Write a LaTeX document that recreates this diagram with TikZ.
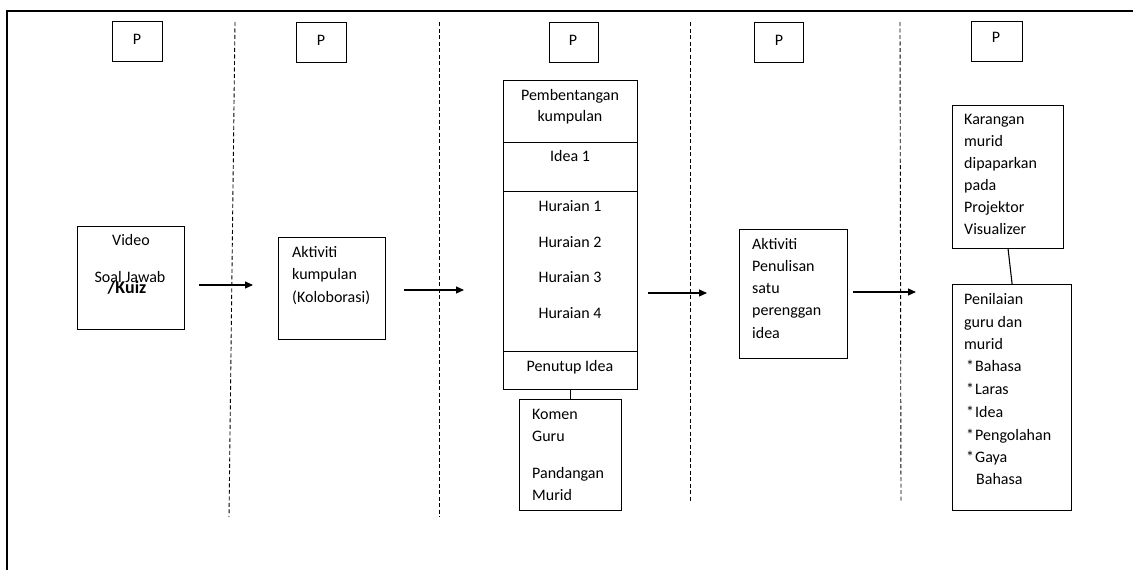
\documentclass[tikz,border=0pt]{standalone}
\usepackage{fontspec}
\setmainfont{Carlito}
\usetikzlibrary{arrows.meta}
\begin{document}
\begin{tikzpicture}[x=1pt,y=-1pt,
  box/.style={draw, line width=1.2pt, inner sep=0pt, anchor=north west},
  txt/.style={inner sep=0pt, font=\fontsize{16}{19}\selectfont},
  lt/.style={txt, anchor=mid west},
  ct/.style={txt, anchor=mid},
  sep/.style={line width=0.9pt, dash pattern=on 4pt off 2.5pt},
  flow/.style={line width=1.1pt, -{Triangle[length=8pt,width=7pt]}},
  link/.style={line width=1.1pt}]
\useasboundingbox (0,0) rectangle (1133,570);
% frame
\draw[line width=1.3pt] (7,570) -- (7,11) -- (1133,11);
% column separators
\coordinate (d1t) at (235,22); \coordinate (d1b) at (229,517);
\coordinate (d2t) at (439,22); \coordinate (d2b) at (439,517);
\coordinate (d3t) at (690,22); \coordinate (d3b) at (690,502);
\coordinate (d4t) at (900,22); \coordinate (d4b) at (901,502);
\draw[sep] (d1t) -- (d1b);
\draw[sep] (d2t) -- (d2b);
\draw[sep] (d3t) -- (d3b);
\draw[sep] (d4t) -- (d4b);
% P boxes
\node[box, minimum width=50pt, minimum height=40pt] (p1) at (112,21) {};
\node[box, minimum width=50pt, minimum height=40pt] (p2) at (296,22) {};
\node[box, minimum width=49pt, minimum height=40pt] (p3) at (549,22) {};
\node[box, minimum width=49pt, minimum height=40pt] (p4) at (754,22) {};
\node[box, minimum width=51pt, minimum height=40pt] (p5) at (971,21) {};
\node[txt] (p1t) at (137,39) {P};
\node[txt] (p2t) at (321,40) {P};
\node[txt] (p3t) at (573,40) {P};
\node[txt] (p4t) at (779,40) {P};
\node[txt] (p5t) at (996,37) {P};
% step boxes
\node[box, minimum width=107pt, minimum height=103pt] (video) at (77,226) {};
\node[box, minimum width=107pt, minimum height=102pt] (akt) at (278,237) {};
\node[box, minimum width=134pt, minimum height=62pt] (pemb) at (503,80) {};
\node[box, minimum width=134pt, minimum height=49pt] (idea) at (503,142) {};
\node[box, minimum width=134pt, minimum height=160pt] (hur) at (503,191) {};
\node[box, minimum width=134pt, minimum height=38pt] (penutup) at (503,351) {};
\node[box, minimum width=102pt, minimum height=111pt] (komen) at (519,399) {};
\node[box, minimum width=108pt, minimum height=129pt] (penulisan) at (739,229) {};
\node[box, minimum width=111pt, minimum height=143pt] (karangan) at (952,105) {};
\node[box, minimum width=119pt, minimum height=226pt] (penilaian) at (952,284) {};
% texts
\node[ct] (v1) at (131,243) {Video};
\node[ct] (v2) at (130,280) {Soal Jawab};
\node[ct, font=\fontsize{18}{20}\selectfont\bfseries] (v3) at (127,291) {/Kuiz};
\foreach \y/\t [count=\i] in {255/Aktiviti, 277/kumpulan, 300/{(Koloborasi)}}
  \node[lt] (akt-\i) at (292,\y) {\t};
\node[ct] (pe1) at (570,98) {Pembentangan};
\node[ct] (pe2) at (570,119) {kumpulan};
\node[ct] (id1) at (570,159) {Idea 1};
\foreach \y/\t [count=\i] in {209/Huraian 1, 245/Huraian 2, 280/Huraian 3, 316/Huraian 4}
  \node[ct] (hu-\i) at (570,\y) {\t};
\node[ct] (pt1) at (570,369) {Penutup Idea};
\foreach \y/\t [count=\i] in {417/Komen, 439/Guru, 476/Pandangan, 498/Murid}
  \node[lt] (ko-\i) at (532,\y) {\t};
\foreach \y/\t [count=\i] in {247/Aktiviti, 269/Penulisan, 291/satu, 313/perenggan, 336/idea}
  \node[lt] (pn-\i) at (752,\y) {\t};
\foreach \y/\t [count=\i] in {122/Karangan, 144/murid, 166/dipaparkan, 188/pada, 210/Projektor, 232/Visualizer}
  \node[lt] (ka-\i) at (964,\y) {\t};
\foreach \y/\t [count=\i] in {302/Penilaian, 325/guru dan, 347/murid}
  \node[lt] (pl-\i) at (964,\y) {\t};
\foreach \y/\t [count=\i] in {369/Bahasa, 392/Laras, 415/Idea, 438/Pengolahan, 460/Gaya}
  \node[lt] (bl-\i) at (966,\y) {*\hspace{1pt}\t};
\node[lt] (bl-6) at (976,482) {Bahasa};
% flow arrows
\coordinate (a1s) at (199,285); \coordinate (a1e) at (253,285);
\coordinate (a2s) at (404,290); \coordinate (a2e) at (464,290);
\coordinate (a3s) at (648,293); \coordinate (a3e) at (707,293);
\coordinate (a4s) at (853,292); \coordinate (a4e) at (916,292);
\draw[flow] (a1s) -- (a1e);
\draw[flow] (a2s) -- (a2e);
\draw[flow] (a3s) -- (a3e);
\draw[flow] (a4s) -- (a4e);
% links
\draw[link] (penutup.south) -- (komen.north);
\draw[link] (karangan.south) -- (penilaian.north);
\end{tikzpicture}
\end{document}
